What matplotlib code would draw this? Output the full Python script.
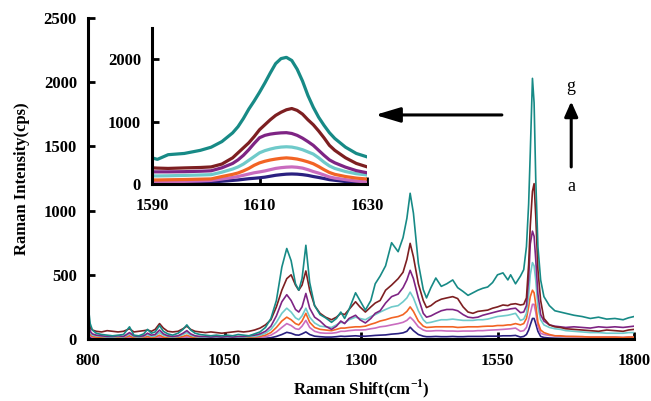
import matplotlib

matplotlib.use("Agg")
import matplotlib.pyplot as plt

plt.rcParams["font.family"] = ["Liberation Serif", "DejaVu Serif"]
plt.rcParams["mathtext.fontset"] = "custom"
plt.rcParams["mathtext.rm"] = "Liberation Serif"
plt.rcParams["mathtext.bf"] = "Liberation Serif:bold"

# Raman shift grid (cm-1) of the main spectra
shift = [
    800, 804, 808, 815, 825, 835, 845, 855, 865, 876,
    884, 893, 902, 909, 916, 923, 931, 938, 946, 955,
    965, 974, 981, 988, 996, 1005, 1015, 1025, 1035, 1045,
    1055, 1065, 1075, 1085, 1095, 1105, 1115, 1125, 1135, 1145,
    1155, 1164, 1172, 1180, 1186, 1192, 1199, 1206, 1215, 1225,
    1235, 1246, 1255, 1263, 1270, 1278, 1290, 1298, 1308, 1318,
    1326, 1335, 1345, 1356, 1368, 1377, 1384, 1390, 1396, 1405,
    1414, 1420, 1428, 1437, 1447, 1457, 1468, 1477, 1487, 1496,
    1505, 1514, 1523, 1532, 1541, 1550, 1560, 1569, 1574, 1583,
    1592, 1598, 1603, 1607, 1610, 1614, 1617, 1620, 1624, 1629,
    1635, 1645, 1655, 1665, 1675, 1690, 1705, 1720, 1735, 1750,
    1765, 1780, 1790, 1800,
]

spec_a = [
    80, 15, 6, 3, 2, 2, 2, 2, 2, 5,
    2, 2, 2, 4, 2, 3, 6, 3, 2, 2,
    2, 4, 6, 3, 2, 2, 2, 2, 2, 2,
    2, 2, 2, 2, 3, 3, 4, 6, 10, 20,
    35, 52, 45, 32, 30, 40, 55, 35, 22, 18,
    15, 15, 18, 22, 20, 22, 25, 22, 22, 25,
    28, 30, 32, 38, 42, 48, 60, 92, 65, 35,
    22, 18, 18, 20, 18, 18, 20, 18, 18, 20,
    20, 20, 20, 22, 22, 22, 25, 25, 25, 28,
    15, 20, 35, 70, 110, 160, 160, 120, 60, 20,
    12, 8, 6, 5, 4, 4, 3, 3, 3, 3,
    3, 3, 3, 3,
]
spec_b = [
    110, 25, 12, 8, 5, 5, 6, 5, 5, 15,
    5, 5, 6, 12, 6, 8, 18, 8, 5, 5,
    6, 12, 18, 10, 5, 5, 4, 4, 5, 4,
    5, 4, 5, 5, 6, 8, 10, 18, 30, 55,
    90, 120, 105, 80, 75, 100, 145, 90, 60, 48,
    45, 45, 50, 60, 60, 65, 70, 70, 72, 80,
    85, 95, 100, 110, 120, 130, 145, 170, 145, 95,
    70, 62, 62, 65, 65, 62, 62, 60, 62, 62,
    62, 65, 65, 68, 70, 72, 75, 78, 80, 85,
    60, 65, 90, 150, 200, 270, 270, 210, 100, 45,
    35, 28, 25, 22, 20, 18, 18, 15, 15, 15,
    15, 12, 15, 15,
]
spec_c = [
    140, 35, 20, 15, 10, 10, 12, 10, 10, 25,
    10, 10, 12, 20, 12, 15, 30, 15, 10, 10,
    12, 20, 30, 18, 10, 10, 8, 8, 10, 8,
    10, 8, 10, 10, 12, 15, 20, 30, 50, 90,
    140, 170, 150, 120, 110, 140, 200, 130, 90, 75,
    70, 65, 75, 85, 85, 90, 95, 95, 100, 115,
    125, 140, 150, 165, 175, 190, 215, 250, 215, 140,
    100, 90, 92, 95, 95, 95, 95, 90, 92, 95,
    95, 95, 98, 100, 100, 105, 105, 110, 110, 120,
    110, 120, 160, 250, 330, 380, 360, 270, 130, 70,
    50, 35, 25, 25, 20, 20, 18, 15, 15, 15,
    15, 12, 15, 15,
]
spec_d = [
    180, 50, 30, 25, 20, 15, 15, 20, 15, 40,
    20, 15, 20, 35, 20, 25, 50, 30, 20, 15,
    20, 35, 50, 30, 20, 15, 15, 10, 15, 10,
    15, 10, 15, 15, 20, 20, 30, 45, 75, 130,
    200, 240, 210, 165, 150, 180, 240, 170, 125, 100,
    95, 90, 110, 130, 125, 150, 170, 160, 150, 175,
    190, 210, 230, 250, 260, 290, 320, 365, 320, 220,
    150, 125, 130, 140, 150, 150, 155, 150, 145, 145,
    145, 150, 150, 155, 165, 175, 180, 185, 190, 200,
    145, 155, 200, 340, 500, 595, 570, 460, 250, 150,
    110, 90, 80, 75, 65, 60, 55, 50, 50, 45,
    45, 45, 50, 50,
]
spec_e = [
    200, 60, 40, 30, 25, 20, 20, 25, 20, 50,
    25, 20, 25, 45, 30, 35, 70, 40, 25, 20,
    25, 45, 65, 40, 25, 20, 20, 15, 20, 15,
    20, 15, 20, 20, 25, 30, 40, 60, 100, 180,
    290, 345, 300, 230, 210, 250, 355, 240, 170, 140,
    100, 75, 100, 140, 120, 160, 185, 150, 125, 160,
    200, 220, 280, 330, 350, 400, 460, 535, 470, 320,
    200, 170, 180, 200, 220, 230, 230, 220, 190, 170,
    165, 170, 185, 195, 205, 215, 225, 230, 235, 240,
    205, 210, 260, 470, 740, 840, 800, 620, 350, 190,
    140, 110, 100, 95, 90, 95, 90, 85, 95, 90,
    95, 90, 95, 100,
]
spec_f = [
    150, 90, 70, 60, 55, 65, 60, 55, 60, 80,
    55, 60, 65, 70, 60, 75, 120, 85, 60, 55,
    60, 80, 100, 75, 60, 55, 50, 55, 50, 45,
    50, 55, 60, 55, 60, 70, 85, 110, 150, 250,
    380, 470, 500, 420, 380, 420, 530, 380, 260, 200,
    170, 150, 170, 200, 190, 230, 290, 250, 210, 250,
    280, 300, 380, 420, 470, 520, 620, 745, 640, 430,
    300, 245, 260, 290, 310, 320, 330, 315, 250, 210,
    200, 215, 220, 225, 240, 250, 265, 260, 270, 275,
    265, 270, 320, 580, 880, 1150, 1210, 960, 540, 300,
    160, 110, 95, 90, 80, 75, 70, 65, 60, 70,
    65, 60, 70, 75,
]
spec_g = [
    270, 120, 70, 45, 35, 30, 25, 30, 35, 95,
    30, 25, 40, 75, 45, 55, 105, 60, 40, 30,
    45, 75, 110, 70, 45, 35, 30, 25, 30, 25,
    30, 25, 35, 30, 25, 40, 55, 90, 160, 300,
    560, 705, 610, 430, 380, 470, 730, 440, 260, 190,
    165, 130, 160, 210, 160, 230, 360, 300, 225, 300,
    430, 490, 570, 750, 680, 790, 940, 1135, 980, 590,
    385, 320, 400, 475, 410, 430, 460, 400, 370, 340,
    360, 380, 395, 405, 440, 500, 515, 460, 500, 430,
    490, 540, 720, 1050, 1450, 2030, 1840, 1250, 720, 460,
    330, 260, 220, 210, 200, 185, 175, 160, 170, 155,
    160, 150, 165, 175,
]

# inset: close-up of the 1590-1630 cm-1 band
inset_shift = [
    1590, 1591, 1593, 1596, 1599, 1601, 1603, 1605, 1606, 1607,
    1608, 1609, 1610, 1611, 1612, 1613, 1614, 1615, 1616, 1617,
    1618, 1619, 1620, 1621, 1622, 1623, 1624, 1626, 1628, 1630,
]
inset_a = [
    12, 12, 14, 18, 25, 32, 45, 58, 65, 75,
    85, 92, 100, 110, 125, 140, 150, 158, 161, 158,
    150, 138, 120, 105, 88, 70, 60, 40, 22, 12,
]
inset_b = [
    35, 35, 38, 42, 50, 58, 80, 105, 120, 140,
    160, 180, 194, 210, 230, 250, 262, 270, 274, 268,
    255, 230, 200, 175, 145, 113, 95, 70, 48, 32,
]
inset_c = [
    65, 65, 68, 72, 78, 82, 120, 155, 177, 210,
    250, 300, 339, 365, 385, 400, 412, 419, 412, 400,
    380, 355, 325, 280, 230, 185, 155, 120, 95, 80,
]
inset_d = [
    130, 130, 132, 138, 145, 150, 190, 240, 274, 320,
    380, 440, 500, 535, 560, 580, 592, 597, 592, 575,
    550, 515, 480, 420, 350, 290, 250, 200, 165, 145,
]
inset_e = [
    195, 195, 195, 198, 205, 212, 260, 330, 387, 460,
    550, 650, 742, 780, 800, 812, 820, 823, 810, 780,
    735, 680, 620, 540, 460, 387, 340, 270, 215, 180,
]
inset_f = [
    260, 255, 250, 258, 265, 274, 320, 420, 500, 580,
    660, 760, 870, 950, 1030, 1100, 1150, 1190, 1210, 1180,
    1120, 1030, 950, 850, 740, 620, 540, 420, 330, 275,
]
inset_g = [
    420, 395, 470, 490, 540, 590, 680, 820, 919, 1050,
    1200, 1330, 1470, 1620, 1780, 1930, 2010, 2030, 1980, 1840,
    1650, 1420, 1230, 1070, 940, 823, 730, 590, 490, 435,
]

colors = ["#2a2080", "#c96cbf", "#f26424", "#6fcaca", "#7e2484", "#7d1f21", "#178a86"]
main_series = [spec_a, spec_b, spec_c, spec_d, spec_e, spec_f, spec_g]
inset_series = [inset_a, inset_b, inset_c, inset_d, inset_e, inset_f, inset_g]

tick_font = {"family": "Liberation Serif", "weight": "bold", "size": 12}


def style_axes(ax):
    for side in ("top", "right"):
        ax.spines[side].set_visible(False)
    for side in ("left", "bottom"):
        ax.spines[side].set_linewidth(2.2)
        ax.spines[side].set_color("black")
    ax.tick_params(direction="in", length=5, width=2)
    ax.tick_params(axis="x", pad=10)
    ax.tick_params(axis="y", pad=8)
    for lab in ax.get_xticklabels() + ax.get_yticklabels():
        lab.set_fontproperties(tick_font)


fig = plt.figure(figsize=(6.51, 4.01), dpi=100)
ax = fig.add_axes([0.1352, 0.1546, 0.8387, 0.8005])
for ys, c in zip(main_series, colors):
    ax.plot(shift, ys, color=c, linewidth=1.2)
ax.set_xlim(800, 1800)
ax.set_ylim(0, 2500)
ax.set_xticks([800, 1050, 1300, 1550, 1800])
ax.set_yticks([0, 500, 1000, 1500, 2000, 2500])
style_axes(ax)
ax.set_xlabel(r"Raman Shift(cm$^{\mathbf{-1}}$)", fontsize=12, fontweight="bold", labelpad=6)
ax.set_ylabel("Raman Intensity(cps)", fontsize=12, fontweight="bold", labelpad=10)

# arrows and labels a -> g
ax.annotate("", xy=(1326, 1745), xytext=(1558, 1745),
            arrowprops=dict(arrowstyle="-|>,head_length=1.5,head_width=0.45",
                            color="black", lw=2.2, shrinkA=0, shrinkB=0))
ax.annotate("", xy=(1685, 1850), xytext=(1685, 1340),
            arrowprops=dict(arrowstyle="-|>,head_length=0.9,head_width=0.4",
                            color="black", lw=2.2, shrinkA=0, shrinkB=0))
ax.text(1685, 1965, "g", ha="center", va="center", fontsize=13)
ax.text(1685, 1185, "a", ha="center", va="center", fontsize=13)

ins = fig.add_axes([0.2335, 0.5411, 0.3303, 0.389])
ins.patch.set_alpha(0)
for ys, c in zip(inset_series, colors):
    ins.plot(inset_shift, ys, color=c, linewidth=2.3, solid_joinstyle="round")
ins.set_xlim(1590, 1630)
ins.set_ylim(0, 2500)
ins.set_xticks([1590, 1610, 1630])
ins.set_yticks([0, 1000, 2000])
style_axes(ins)

fig.savefig("out.png", dpi=100)
plt.close(fig)
